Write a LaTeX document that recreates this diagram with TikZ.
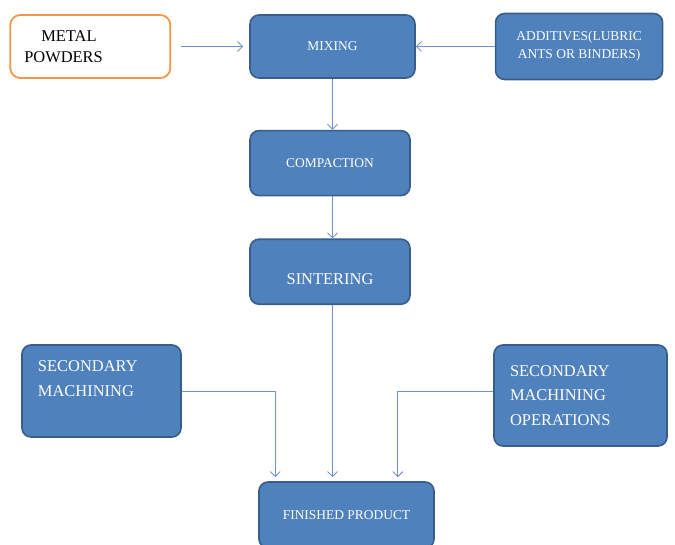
\documentclass[tikz,border=0pt]{standalone}
\usepackage{fontspec}
\setmainfont{Liberation Serif}
\usetikzlibrary{arrows.meta,positioning}
\definecolor{boxblue}{RGB}{79,129,189}
\definecolor{edgeblue}{RGB}{56,93,138}
\definecolor{linkblue}{RGB}{110,150,205}
\definecolor{orangeedge}{RGB}{247,150,70}

\begin{document}
\begin{tikzpicture}[
  x=1bp,y=1bp,
  node distance=51bp and 78bp,
  box/.style={draw=edgeblue,fill=boxblue,line width=1.6bp,rounded corners=9bp,
    text=white,align=center,inner sep=0pt,font=\fontsize{13.5}{18}\selectfont},
  bigtext/.style={font=\fontsize{16.5}{25}\selectfont},
  inbox/.style={draw=orangeedge,fill=white,line width=1.8bp,rounded corners=10bp,
    text=black,align=left,inner xsep=14bp,font=\fontsize{16.5}{21}\selectfont},
  arr/.style={-{Straight Barb[length=5bp,width=10bp]},line width=0.9bp,draw=linkblue}
]
\useasboundingbox (0,0) rectangle (675,-545);
\node[box,minimum width=165bp,minimum height=63bp] (mix) at (332.5,-46.5) {MIXING};
\node[inbox,left=of mix,text width=132bp,minimum height=63bp] (metal) {\hspace*{17bp}METAL\\POWDERS};
\node[box,right=79bp of mix,minimum width=167bp,minimum height=66bp] (add) {ADDITIVES(LUBRIC\\ANTS OR BINDERS)};
\node[box,below=51bp of mix.south west,anchor=north west,minimum width=160bp,minimum height=65bp] (comp) {COMPACTION};
\node[box,bigtext,below=42bp of comp.south west,anchor=north west,minimum width=160bp,minimum height=65bp] (sint) {~\\SINTERING};
\node[box,bigtext,align=left,inner xsep=16bp,text width=127bp,minimum height=92bp] (secl) at (101.5,-391) {SECONDARY\\MACHINING\\~};
\node[box,bigtext,align=left,inner xsep=16bp,text width=141bp,minimum height=101bp,font=\fontsize{16.5}{24.5}\selectfont] (secr) at (580.5,-395.5) {SECONDARY\\MACHINING\\OPERATIONS};
\node[box,minimum width=175bp,minimum height=66bp] (fin) at (346.5,-515) {FINISHED PRODUCT};
\draw[arr,shorten <=10bp,shorten >=6bp] (metal.east) -- (metal.east -| mix.west);
\draw[arr] (add.west) -- (add.west -| mix.east);
\draw[arr] (mix.south) -- (mix.south |- comp.north);
\draw[arr] (mix.south |- comp.south) -- (mix.south |- sint.north);
\draw[arr,shorten >=4bp] (mix.south |- sint.south) -- (mix.south |- fin.north);
\draw[arr,shorten >=4bp] (secl.east) -| ([xshift=17bp]fin.north west);
\draw[arr,shorten >=4bp] ([yshift=4.5bp]secr.west) -| ([xshift=-37bp]fin.north east);
\end{tikzpicture}
\end{document}
